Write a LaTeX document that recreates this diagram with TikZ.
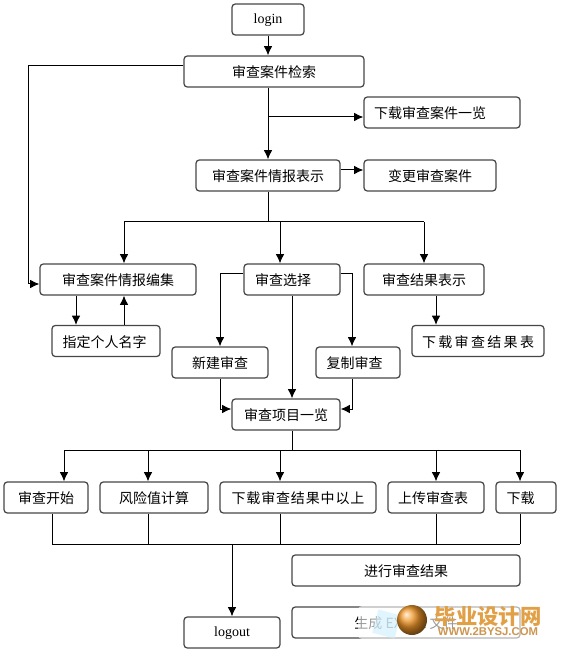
\documentclass[tikz,border=0pt]{standalone}
\usepackage{fontspec}
\setmainfont{Noto Sans CJK SC}
\newfontfamily\latinfont{Liberation Serif}
\newfontfamily\urlfont{Liberation Sans}
\usepackage{xcolor}
\usetikzlibrary{arrows.meta, calc}
\definecolor{wmorange}{RGB}{226,160,70}
\definecolor{wmgold}{RGB}{205,150,80}
\definecolor{wmpeach}{RGB}{240,150,40}
\tikzset{
    flowbox/.style={draw=black!72, line width=0.95pt, rounded corners=2.5pt, fill=white, inner sep=0pt,
        minimum height=23.25pt, text height=9.5pt, text depth=0pt, font=\fontsize{10.5pt}{12pt}\selectfont},
    wordbox/.style={flowbox, text height=6.5pt, font=\latinfont\fontsize{10.5pt}{12pt}\selectfont},
    flowline/.style={draw=black, line width=0.75pt},
    flowarrow/.style={flowline, -{Latex[length=7pt,width=6.5pt]}}
}
\begin{document}
\begin{tikzpicture}[x=0.75pt,y=-0.75pt]
    \useasboundingbox (0,0) rectangle (565,655);
    % boxes
    \node[wordbox, minimum width=54pt] (login) at (268,19.5) {login};
    \node[flowbox, minimum width=135pt] (search) at (274,71.5) {审查案件检索};
    \node[flowbox, minimum width=117pt] (caselist) at (442,112.5) {下载审查案件一览\kern18pt};
    \node[flowbox, minimum width=108pt] (info) at (268,175.5) {审查案件情报表示};
    \node[flowbox, minimum width=99pt] (change) at (430,175.5) {变更审查案件};
    \node[flowbox, minimum width=117pt] (edit) at (118,279.5) {审查案件情报编集};
    \node[flowbox, minimum width=72pt] (choose) at (292,279.5) {审查选择\kern13.5pt};
    \node[flowbox, minimum width=90pt] (result) at (424,279.5) {审查结果表示};
    \node[flowbox, minimum width=81pt] (person) at (106,341) {指定个人名字\kern2pt};
    \node[flowbox, minimum width=99pt] (resultdl) at (478,341) {下\,载\,审\,查\,结\,果\,表};
    \node[flowbox, minimum width=72pt] (newrev) at (220,362.5) {新建审查};
    \node[flowbox, minimum width=63pt] (copyrev) at (358,362.5) {复制审查\kern5pt};
    \node[flowbox, minimum width=81pt] (items) at (286,414.5) {审查项目一览};
    % bottom row
    \node[flowbox, minimum width=63pt] (start) at (46,497.5) {审查开始};
    \node[flowbox, minimum width=81pt] (risk) at (154,497.5) {风险值计算};
    \node[flowbox, minimum width=117pt] (over) at (298,497.5) {\addfontfeature{LetterSpace=6}下载审查结果中以上};
    \node[flowbox, minimum width=72pt] (upload) at (436,497.5) {上传审查表\kern4.5pt};
    \node[flowbox, minimum width=45pt] (down) at (526,497.5) {下载\kern8pt};
    \node[flowbox, minimum width=171pt] (doing) at (406,570.5) {进行审查结果};
    \node[flowbox, minimum width=171pt] (excel) at (406,622.5) {生成 EXCEL 文件};
    \node[wordbox, minimum width=72pt] (logout) at (232,632.5) {logout};
    % bus points
    \coordinate (midbus) at (268,222);
    \coordinate (topbus) at (292,450);
    \coordinate (botbus) at (232,544);
    % connectors
    \draw[flowarrow] (login.south) -- (login.south |- search.north);
    \draw[flowarrow] (info.north |- search.south) -- (info.north);
    \draw[flowarrow] (info.north |- 0,117) -- (caselist.west |- 0,117);
    \draw[flowarrow] (info.east |- 0,170) -- (change.west |- 0,170);
    \draw[flowline] (info.south) -- (midbus);
    \draw[flowline] (124,0 |- midbus) -- (424,0 |- midbus);
    \foreach \nm/\xx in {edit/124, choose/280, result/424}
        \draw[flowarrow] (\xx,0 |- midbus) -- (\xx,0 |- \nm.north);
    \draw[flowarrow] (search.west |- 0,66) -- (28,66) -- (28,284) -- (edit.west |- 0,284);
    \draw[flowarrow] (76,0 |- edit.south) -- (76,0 |- person.north);
    \draw[flowarrow] (124,0 |- person.north) -- (124,0 |- edit.south);
    \draw[flowarrow] (choose.west |- 0,274) -- (220,274) -- (newrev.north);
    \draw[flowarrow] (choose.east |- 0,274) -- (352,274) -- (352,0 |- copyrev.north);
    \draw[flowarrow] (choose.south) -- (choose.south |- items.north);
    \draw[flowarrow] (newrev.south) -- (220,409) -- (items.west |- 0,409);
    \draw[flowarrow] (352,0 |- copyrev.south) -- (352,409) -- (items.east |- 0,409);
    \draw[flowarrow] (436,0 |- result.south) -- (436,0 |- resultdl.north);
    \draw[flowline] (292,0 |- items.south) -- (topbus);
    \draw[flowline] (64,0 |- topbus) -- (520,0 |- topbus);
    \foreach \nm/\xx in {start/64, risk/148, over/280, upload/436, down/520}
        \draw[flowarrow] (\xx,0 |- topbus) -- (\xx,0 |- \nm.north);
    \foreach \nm/\xx in {start/52, risk/148, over/280, upload/436, down/520}
        \draw[flowline] (\xx,0 |- \nm.south) -- (\xx,0 |- botbus);
    \draw[flowline] (52,0 |- botbus) -- (520,0 |- botbus);
    \draw[flowarrow] (botbus) -- (logout.north);
    % watermark
    \fill[white, opacity=0.6, rounded corners=3pt] (358,606) rectangle (522,639);
    \fill[cyan!20, opacity=0.6, rotate around={-15:(386,624)}] (375,612) rectangle (398,636);
    \shade[ball color=wmpeach] (412,620) circle (15);
    \node[font=\bfseries\fontsize{16pt}{18pt}\selectfont, text=wmorange] (wmname) at (488,616) {毕业设计网};
    \node[font=\urlfont\bfseries\fontsize{8.5pt}{10pt}\selectfont, text=wmgold] (wmurl) at (488,632) {WWW.2BYSJ.COM};
\end{tikzpicture}
\end{document}
